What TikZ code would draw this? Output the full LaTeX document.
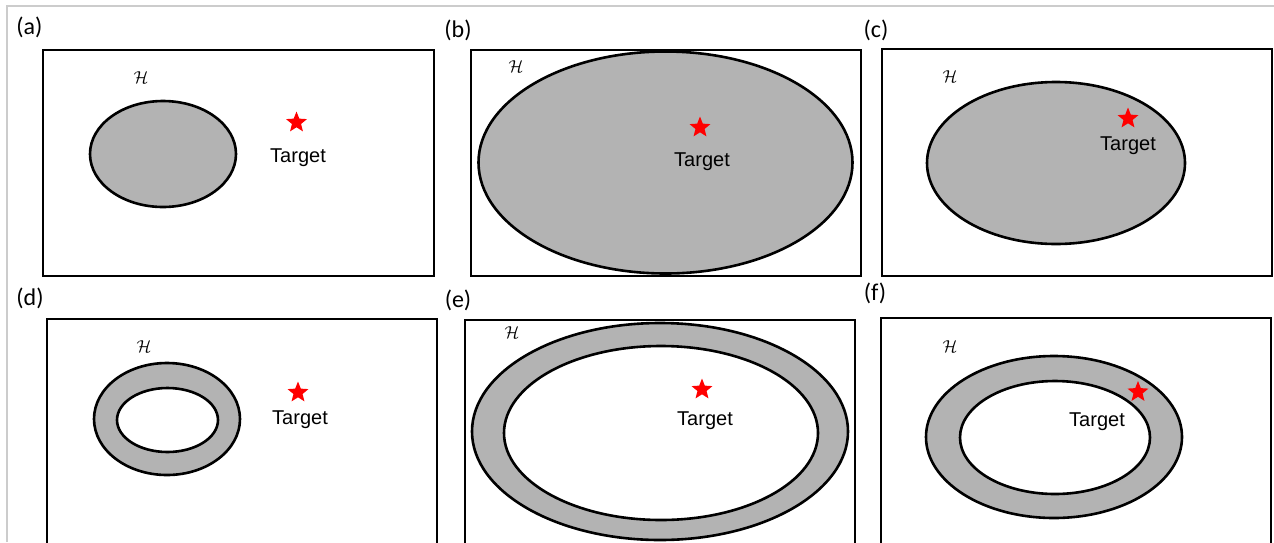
\documentclass[tikz,border=0pt]{standalone}
\usepackage{fontspec}
\setmainfont{Liberation Sans}
\newfontfamily\labelfont{Carlito}
\usetikzlibrary{shapes.geometric}

\definecolor{regiongray}{RGB}{179,179,179}
\definecolor{framegray}{RGB}{204,204,204}

\begin{document}
\begin{tikzpicture}[x=1pt,y=-1pt]

    \tikzstyle{box} = [line width=2.6, black]
    \tikzstyle{region} = [fill=regiongray, draw=black, line width=2.6]
    \tikzstyle{hole} = [fill=white, draw=black, line width=2.6]
    \tikzstyle{target} = [star, star points=5, star point ratio=2.3, fill=red, minimum size=22, inner sep=0]
    \tikzstyle{panel} = [font=\labelfont\fontsize{24}{28}\selectfont, inner sep=0]
    \tikzstyle{space} = [font=\fontsize{17}{20}\selectfont, inner sep=0]
    \tikzstyle{tlabel} = [font=\fontsize{20}{24}\selectfont, inner sep=0]

    \useasboundingbox (0,0) rectangle (1274,542);
    \clip (0,0) rectangle (1274,542);
    \draw[framegray, line width=1.2] (7,542) -- (7,6) -- (1274,6);

    % top row
    \draw[box] (43,50) rectangle (434,276);
    \draw[box] (471,50) rectangle (861,276);
    \draw[box] (882,49) rectangle (1272,276);

    \draw[region] (163,154) ellipse (73 and 53);
    \draw[region] (665.5,162.5) ellipse (187 and 111);
    \draw[region] (1056,163) ellipse (129 and 81);

    \node[panel] (la) at (29.5,27.5) {(a)};
    \node[panel] (lb) at (458,30) {(b)};
    \node[panel] (lc) at (876,30) {(c)};

    \node[space] (ha) at (141,78) {$\mathcal{H}$};
    \node[space] (hb) at (516,67) {$\mathcal{H}$};
    \node[space] (hc) at (950,77) {$\mathcal{H}$};

    \node[target] (sa) at (296.5,122.5) {};
    \node[target] (sb) at (700,127.5) {};
    \node[target] (sc) at (1128,118.5) {};
    \node[tlabel] (ta) at (298,158) {Target};
    \node[tlabel] (tb) at (702,161.5) {Target};
    \node[tlabel] (tc) at (1128,145.5) {Target};

    % bottom row
    \draw[box] (47,600) -- (47,319) -- (437,319) -- (437,600);
    \draw[box] (465,600) -- (465,320) -- (855,320) -- (855,600);
    \draw[box] (881,600) -- (881,318) -- (1271,318) -- (1271,600);

    \draw[region] (167,419) ellipse (73 and 56);
    \draw[hole] (167.5,420) ellipse (50.5 and 32);
    \draw[region] (660,431.5) ellipse (188 and 108.5);
    \draw[hole] (661,433) ellipse (157 and 87);
    \draw[region] (1054,437) ellipse (128 and 81);
    \draw[hole] (1055,437.5) ellipse (95 and 56.5);

    \node[panel] (ld) at (30,298) {(d)};
    \node[panel] (le) at (458,300) {(e)};
    \node[panel] (lf) at (875,293) {(f)};

    \node[space] (hd) at (144,347) {$\mathcal{H}$};
    \node[space] (he) at (512,333) {$\mathcal{H}$};
    \node[space] (hf) at (950,347) {$\mathcal{H}$};

    \node[target] (sd) at (298,392.5) {};
    \node[target] (se) at (702,389.5) {};
    \node[target] (sf) at (1138,392) {};
    \node[tlabel] (td) at (300,419.5) {Target};
    \node[tlabel] (te) at (705,420.5) {Target};
    \node[tlabel] (tf) at (1097,421.5) {Target};
\end{tikzpicture}
\end{document}
